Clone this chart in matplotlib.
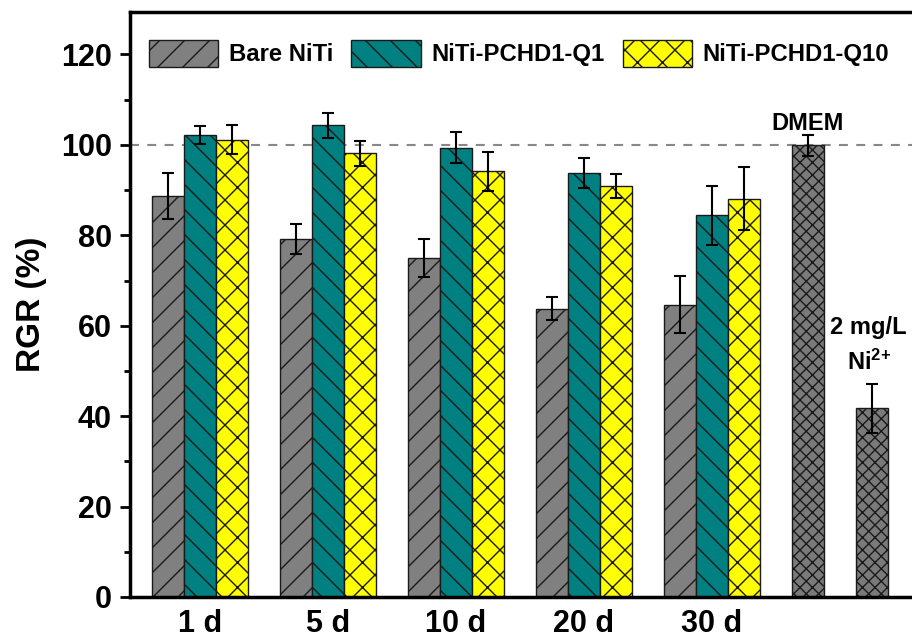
import matplotlib
matplotlib.use('Agg')
import matplotlib.pyplot as plt
import numpy as np

# values
days = ['1 d', '5 d', '10 d', '20 d', '30 d']
bare = [88.7, 79.2, 74.9, 63.8, 64.6]
bare_err = [5.0, 3.4, 4.2, 2.6, 6.3]
q1 = [102.1, 104.3, 99.4, 93.7, 84.4]
q1_err = [2.0, 2.7, 3.4, 3.3, 6.6]
q10 = [101.1, 98.1, 94.2, 90.9, 88.1]
q10_err = [3.2, 2.7, 4.3, 2.7, 6.9]
ctrl_names = ['DMEM', 'Ni']
ctrl = [99.9, 41.7]
ctrl_err = [2.3, 5.4]

# render at a lower dpi so the hatching comes out denser; k keeps sizes in pixels
DPI = 75
k = 100 / DPI

plt.rcParams['font.family'] = ['Liberation Sans', 'DejaVu Sans']
plt.rcParams['font.weight'] = 'bold'
plt.rcParams['mathtext.fontset'] = 'custom'
plt.rcParams['mathtext.rm'] = 'Liberation Sans:bold'
plt.rcParams['mathtext.it'] = 'Liberation Sans:bold'
plt.rcParams['mathtext.bf'] = 'Liberation Sans:bold'
plt.rcParams['hatch.linewidth'] = 1.0 * k

fig = plt.figure(figsize=(912 / DPI, 641 / DPI), dpi=DPI)
ax = fig.add_axes([130/912, 44/641, 782/912, 585.5/641])

centers = np.arange(len(days)) * 4 + 1
edge = '#1a1a1a'
err_kw = dict(ecolor='black', elinewidth=1.5 * k, capsize=4 * k, capthick=1.5 * k)

ax.bar(centers - 1, bare, 1.0, yerr=bare_err, color='#808080', edgecolor=edge,
       lw=1.0 * k, hatch='/', label='Bare NiTi', error_kw=err_kw)
ax.bar(centers, q1, 1.0, yerr=q1_err, color='#008080', edgecolor=edge,
       lw=1.0 * k, hatch='\\', label='NiTi-PCHD1-Q1', error_kw=err_kw)
ax.bar(centers + 1, q10, 1.0, yerr=q10_err, color='#ffff00', edgecolor=edge,
       lw=1.0 * k, hatch='x', label='NiTi-PCHD1-Q10', error_kw=err_kw)

ctrl_x = [centers[-1] + 3, centers[-1] + 5]
ax.bar(ctrl_x, ctrl, 1.0, yerr=ctrl_err, color='#7a7a7a', edgecolor=edge,
       lw=1.0 * k, hatch='xx', error_kw=err_kw)

ax.axhline(100, color='#888888', lw=1.5 * k, ls=(0, (4.3, 4)), zorder=0.5)

ax.text(ctrl_x[0], 104.8, 'DMEM', ha='center', va='center', fontsize=17 * k, fontweight='bold')
ax.text(ctrl_x[1] - 0.1, 59.5, '2 mg/L', ha='center', va='center', fontsize=17 * k, fontweight='bold')
ax.text(ctrl_x[1] - 0.1, 52.0, r'Ni$^{2{+}}$', ha='center', va='center', fontsize=17 * k, fontweight='bold')

ax.set_xlim(1 - 70/32, 1 + 712/32)
ax.set_ylim(0, 129.5)
ax.set_yticks([0, 20, 40, 60, 80, 100, 120])
ax.set_yticks(np.arange(10, 130, 20), minor=True)
ax.set_xticks(centers)
ax.set_xticklabels(days, fontsize=22 * k, fontweight='bold')
ax.tick_params(axis='x', length=0, pad=9 * k)
ax.tick_params(axis='y', which='major', length=7 * k, width=2 * k, labelsize=22 * k, pad=6 * k)
ax.tick_params(axis='y', which='minor', length=4 * k, width=2 * k)
for lab in ax.get_yticklabels():
    lab.set_fontweight('bold')

for s in ['left', 'top', 'bottom']:
    ax.spines[s].set_linewidth(2.5 * k)
ax.spines['right'].set_visible(False)

ax.set_ylabel('RGR (%)', fontsize=24 * k, fontweight='bold', labelpad=10 * k)

ax.legend(loc='upper left', bbox_to_anchor=(19/782, 1 - 28/585.5), ncol=3,
          frameon=False, handlelength=2.9, handleheight=1.4,
          handletextpad=0.45, columnspacing=0.75, borderaxespad=0, borderpad=0,
          prop={'weight': 'bold', 'size': 17.2 * k})

fig.savefig('out.png', dpi=DPI)
